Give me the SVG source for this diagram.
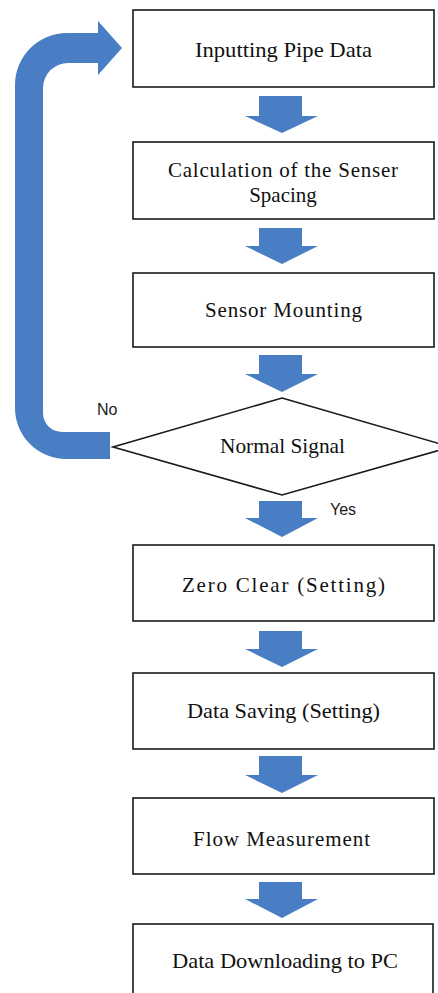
<svg xmlns="http://www.w3.org/2000/svg" width="438" height="993" viewBox="0 0 438 993">
<defs>
<style>
.box{fill:#fff;stroke:#1a1a1a;stroke-width:1.6}
.lbl{font-family:"Liberation Serif","Times New Roman",serif;font-size:21px;fill:#111;text-anchor:middle}
.lbl2{font-family:"Liberation Serif","Times New Roman",serif;font-size:21px;fill:#111}
.side{font-family:"Liberation Sans",Arial,sans-serif;font-size:16px;fill:#1a1a1a}
.blue{fill:#4A7EC4}
</style>
</defs>
<rect width="438" height="993" fill="#fff"/>
<g id="connectors" class="blue">
<path d="M110 432 L62 432 A19 19 0 0 1 43 413 L43 88 A25 25 0 0 1 68 63 L98 63 L98 75 L122 48 L98 21 L98 33 L67 33 A52 52 0 0 0 15 85 L15 408 A51 51 0 0 0 66 459 L110 459 Z"/>
<path d="M259 96 H302 V116 H318 L282 133 L245 116 H259 Z"/>
<path d="M259 228 H302 V246 H318 L282 264 L245 246 H259 Z"/>
<path d="M259 355 H302 V374 H318 L282 392 L245 374 H259 Z"/>
<path d="M259 501 H302 V518 H318 L282 537 L245 518 H259 Z"/>
<path d="M259 631 H302 V649 H318 L282 667 L245 649 H259 Z"/>
<path d="M259 756 H302 V775 H318 L282 793 L245 775 H259 Z"/>
<path d="M259 882 H302 V899 H318 L282 918 L245 899 H259 Z"/>
<text class="side" x="97" y="415" font-size="17">No</text>
<text class="side" x="330" y="515">Yes</text>
</g>
<g id="n1"><rect class="box" x="133" y="10" width="301" height="77"/><text class="lbl2" x="195" y="57" textLength="177" lengthAdjust="spacingAndGlyphs">Inputting Pipe Data</text></g>
<g id="n2"><rect class="box" x="133" y="142" width="301" height="77"/><text class="lbl2" x="168" y="177" textLength="230" lengthAdjust="spacing">Calculation of the Senser</text><text class="lbl" x="283" y="202">Spacing</text></g>
<g id="n3"><rect class="box" x="133" y="273" width="301" height="74"/><text class="lbl2" x="205" y="317" textLength="157" lengthAdjust="spacing">Sensor Mounting</text></g>
<g id="n4"><polygon points="282,398 451,447 282,495 113,447" fill="#fff" stroke="#1a1a1a" stroke-width="1.6"/><text class="lbl2" x="220" y="453" textLength="125" lengthAdjust="spacingAndGlyphs">Normal Signal</text></g>
<g id="n5"><rect class="box" x="133" y="545" width="301" height="76"/><text class="lbl2" x="182" y="592" textLength="203" lengthAdjust="spacing">Zero Clear (Setting)</text></g>
<g id="n6"><rect class="box" x="133" y="673" width="301" height="76"/><text class="lbl2" x="187" y="718" textLength="193" lengthAdjust="spacingAndGlyphs">Data Saving (Setting)</text></g>
<g id="n7"><rect class="box" x="133" y="798" width="301" height="76"/><text class="lbl2" x="193" y="846" textLength="177" lengthAdjust="spacing">Flow Measurement</text></g>
<g id="n8"><rect class="box" x="133" y="924" width="300" height="80"/><text class="lbl2" x="172" y="968" textLength="226" lengthAdjust="spacingAndGlyphs">Data Downloading to PC</text></g>
</svg>
